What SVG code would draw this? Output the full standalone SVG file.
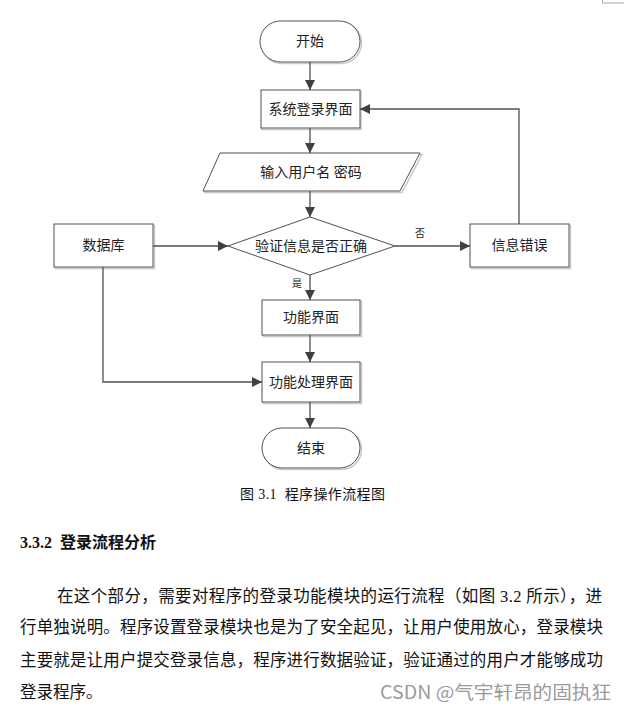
<svg xmlns="http://www.w3.org/2000/svg" width="624" height="711" viewBox="0 0 624 711">
<defs>
<marker id="arr" viewBox="0 0 10 10" refX="10" refY="5" markerWidth="10" markerHeight="10" markerUnits="userSpaceOnUse" orient="auto">
<path d="M0,0 L10,5 L0,10 z" fill="#404040"/>
</marker>
</defs>
<style>
.shadow{fill:none;stroke:#c8c8c8;stroke-width:1.5}
.box{fill:#fff;stroke:#505050;stroke-width:1}
.lbl{font-family:"Liberation Serif","Noto Sans CJK SC",serif;font-size:14px;fill:#222;text-anchor:middle;dominant-baseline:central}
.small{font-family:"Liberation Serif","Noto Sans CJK SC",serif;font-size:10px;fill:#222;text-anchor:middle;dominant-baseline:central}
.edge{fill:none;stroke:#505050;stroke-width:1.3;marker-end:url(#arr)}
.body{font-family:"Liberation Serif","Noto Sans CJK SC",serif;font-size:16.5px;fill:#111}
</style>
<rect width="624" height="711" fill="#fff"/>
<path d="M602.5,0 V3 H624" fill="none" stroke="#aaa" stroke-width="1"/>

<g id="start">
<rect x="261.5" y="22.5" width="100" height="41" rx="20.5" class="shadow"/>
<rect x="260" y="21" width="100" height="41" rx="20.5" class="box"/>
<text x="310" y="41.5" class="lbl">开始</text>
</g>
<g id="login">
<rect x="262" y="91.5" width="99" height="38" class="shadow"/>
<rect x="261" y="90" width="99" height="38" class="box"/>
<text x="310.5" y="109" class="lbl">系统登录界面</text>
</g>
<g id="input">
<polygon points="222,154.5 422,154.5 402,192.5 205,192.5" class="shadow"/>
<polygon points="220,153 420,153 400,191 203,191" class="box"/>
<text x="311" y="172" class="lbl">输入用户名 密码</text>
</g>
<g id="verify">
<polygon points="310,217 395,246 310,275 228,246" class="box"/>
<text x="311" y="246" class="lbl">验证信息是否正确</text>
</g>
<g id="error">
<rect x="471.5" y="225.5" width="99" height="43" class="shadow"/>
<rect x="470" y="224" width="99" height="43" class="box"/>
<text x="519.5" y="245.5" class="lbl">信息错误</text>
</g>
<g id="database">
<rect x="55.5" y="225.5" width="99" height="43" class="shadow"/>
<rect x="54" y="224" width="99" height="43" class="box"/>
<text x="103.5" y="245.5" class="lbl">数据库</text>
</g>
<g id="func">
<rect x="263.5" y="301.5" width="98" height="35" class="shadow"/>
<rect x="262" y="300" width="98" height="35" class="box"/>
<text x="311" y="317.5" class="lbl">功能界面</text>
</g>
<g id="funcproc">
<rect x="263.5" y="363.5" width="98" height="40" class="shadow"/>
<rect x="262" y="362" width="98" height="40" class="box"/>
<text x="311" y="382" class="lbl">功能处理界面</text>
</g>
<g id="end">
<rect x="263.5" y="429.5" width="98" height="40" rx="20" class="shadow"/>
<rect x="262" y="428" width="98" height="40" rx="20" class="box"/>
<text x="311" y="448" class="lbl">结束</text>
</g>

<g id="connectors">
<path d="M310,62 V90" class="edge"/>
<path d="M310,128 V153" class="edge"/>
<path d="M310,191 V217" class="edge"/>
<path d="M395,246 H470" class="edge"/>
<path d="M519,224 V109 H360" class="edge"/>
<path d="M153,246 H228" class="edge"/>
<path d="M310,275 V300" class="edge"/>
<path d="M310,335 V362" class="edge"/>
<path d="M103,267 V382 H262" class="edge"/>
<path d="M310,402 V428" class="edge"/>
<text x="420" y="233" class="small">否</text>
<text x="297" y="283" class="small">是</text>
</g>

<text x="240" y="494" font-family="Liberation Serif,'Noto Sans CJK SC',serif" font-size="14" fill="#111" dominant-baseline="central" xml:space="preserve" textLength="145" lengthAdjust="spacing">图 3.1  程序操作流程图</text>
<text x="20" y="542" font-family="Liberation Serif,'Noto Sans CJK SC',serif" font-size="16" font-weight="bold" fill="#111" dominant-baseline="central" xml:space="preserve">3.3.2  登录流程分析</text>
<text x="57" y="596" class="body" dominant-baseline="central" textLength="545" lengthAdjust="spacing">在这个部分，需要对程序的登录功能模块的运行流程（如图 3.2 所示），进</text>
<text x="20" y="627" class="body" dominant-baseline="central" textLength="583" lengthAdjust="spacing">行单独说明。程序设置登录模块也是为了安全起见，让用户使用放心，登录模块</text>
<text x="20" y="660" class="body" dominant-baseline="central" textLength="583" lengthAdjust="spacing">主要就是让用户提交登录信息，程序进行数据验证，验证通过的用户才能够成功</text>
<text x="20" y="692" class="body" dominant-baseline="central">登录程序。</text>
<text x="380" y="691" font-family="'Noto Sans CJK SC',sans-serif" font-size="18" fill="#9a9a9a" dominant-baseline="central" textLength="231" lengthAdjust="spacingAndGlyphs">CSDN @气宇轩昂的固执狂</text>
</svg>
